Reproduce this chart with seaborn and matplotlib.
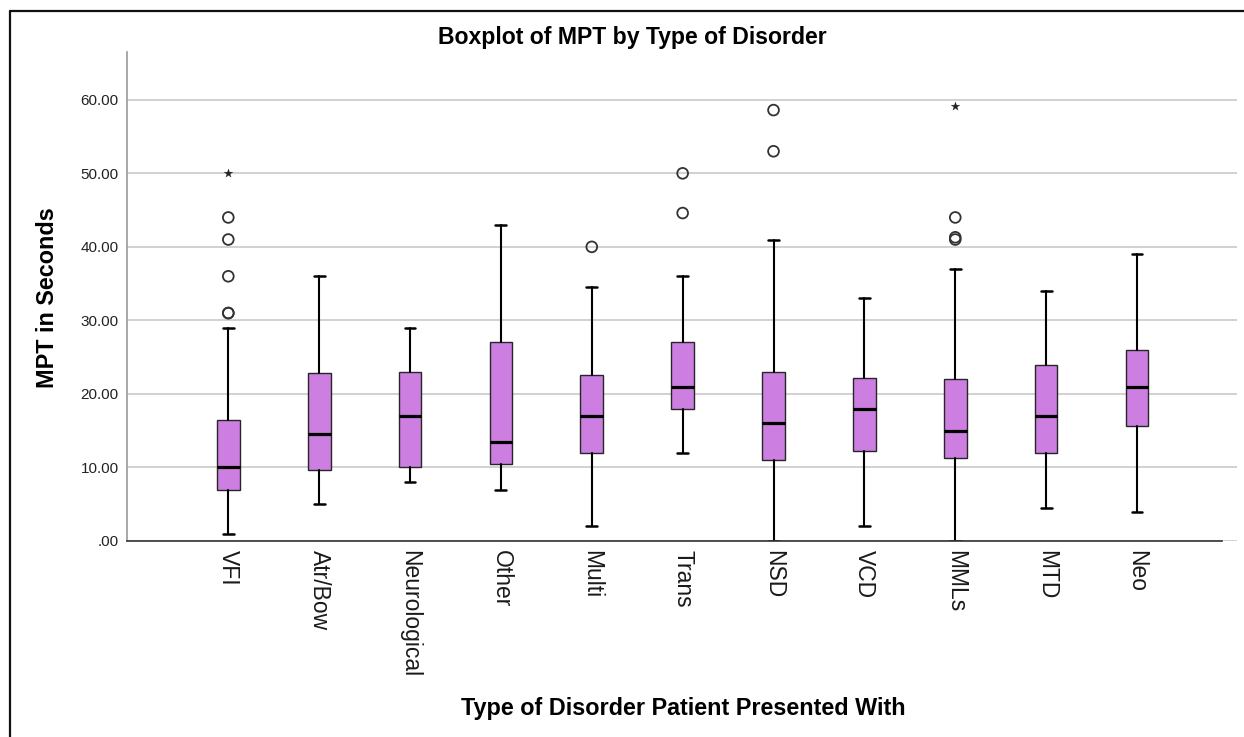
import matplotlib
matplotlib.use("Agg")
import matplotlib.pyplot as plt
from matplotlib.lines import Line2D
from matplotlib.ticker import FuncFormatter
import numpy as np
import pandas as pd
import seaborn as sns

# ---------------- data ----------------
categories = ["VFI", "Atr/Bow", "Neurological", "Other", "Multi", "Trans",
              "NSD", "VCD", "MMLs", "MTD", "Neo"]
whisker_low = [1, 5, 8, 7, 2, 12, 0, 2, 0, 4.5, 4]
q1 = [7, 9.7, 10, 10.5, 12, 18, 11, 12.3, 11.3, 12, 15.6]
median = [10, 14.5, 17, 13.4, 17, 21, 16, 18, 15, 17, 21]
q3 = [16.5, 22.8, 23, 27, 22.6, 27, 23, 22.2, 22, 24, 26]
whisker_high = [29, 36, 29, 43, 34.6, 36, 41, 33, 37, 34, 39]

outlier_cat = ["VFI", "VFI", "VFI", "VFI", "VFI", "Multi", "Trans", "Trans",
               "NSD", "NSD", "MMLs", "MMLs", "MMLs"]
outlier_val = [44, 41, 36, 31, 31, 40, 50, 44.6, 58.6, 53, 44, 41.3, 41]
extreme_cat = ["VFI", "MMLs"]
extreme_val = [50, 59.2]

title = "Boxplot of MPT by Type of Disorder"
x_title = "Type of Disorder Patient Presented With"
y_title = "MPT in Seconds"
y_ticks = [0, 10, 20, 30, 40, 50, 60]

# ---------------- style ----------------
sns.set_theme(style="white")
plt.rcParams["font.family"] = ["Liberation Sans", "DejaVu Sans"]

W, H = 1244, 737
fig = plt.figure(figsize=(W / 100, H / 100), dpi=100)
fig.patch.set_facecolor("white")
ax = fig.add_axes([127 / W, (H - 541) / H, (1237 - 127) / W, (541 - 52) / H])

box_color = "#CC7FE0"
stats = []
for i, c in enumerate(categories):
    stats.append(dict(label=c, whislo=whisker_low[i], q1=q1[i], med=median[i],
                      q3=q3[i], whishi=whisker_high[i], fliers=[]))

pos = np.arange(len(categories))
ax.bxp(stats, positions=pos, widths=0.25, capwidths=0.12, patch_artist=True,
       showfliers=False, manage_ticks=False,
       boxprops=dict(facecolor=box_color, edgecolor="#262626", linewidth=1.0),
       medianprops=dict(color="black", linewidth=2.3, solid_capstyle="butt"),
       whiskerprops=dict(color="black", linewidth=1.5),
       capprops=dict(color="black", linewidth=1.8))

out_df = pd.DataFrame({"x": [categories.index(c) for c in outlier_cat],
                       "y": outlier_val})
ext_df = pd.DataFrame({"x": [categories.index(c) for c in extreme_cat],
                       "y": extreme_val})
sns.scatterplot(data=out_df, x="x", y="y", ax=ax, marker="o", s=60,
                facecolor="none", edgecolor="#333333", linewidth=1.3,
                legend=False, zorder=5)
sns.scatterplot(data=ext_df, x="x", y="y", ax=ax, marker="*", s=42,
                color="#222222", edgecolor="#222222", linewidth=0.2,
                legend=False, zorder=5)

# ---------------- axes ----------------
x0 = (127 - 228.3) / 90.87
x1 = (1237 - 228.3) / 90.87
ax.set_xlim(x0, x1)
ax.set_ylim(0, 66.5)
ax.set_xticks(pos)
ax.set_xticklabels(categories, rotation=270, fontsize=16.5, color="#1a1a1a")
ax.set_yticks(y_ticks)
ax.yaxis.set_major_formatter(FuncFormatter(
    lambda v, p: ("%.2f" % v)[1:] if abs(v) < 1 else "%.2f" % v))
ax.tick_params(axis="y", length=0, pad=6, labelsize=11, labelcolor="#222222")
ax.tick_params(axis="x", length=0, pad=6.5)

ax.yaxis.grid(True, color="#c9c9c9", linewidth=1.2)
ax.xaxis.grid(False)
ax.set_axisbelow(True)

for s in ["top", "right"]:
    ax.spines[s].set_visible(False)
ax.spines["left"].set_color("#9a9a9a")
ax.spines["left"].set_linewidth(1.2)
ax.spines["bottom"].set_color("#333333")
ax.spines["bottom"].set_linewidth(1.2)
ax.spines["bottom"].set_bounds(x0, (1222 - 228.3) / 90.87)

ax.set_xlabel(x_title, fontsize=16.8, fontweight="bold", color="black")
ax.xaxis.set_label_coords((683 - 127) / 1110, (541 - 709) / 489)
ax.xaxis.label.set_va("center")
ax.set_ylabel(y_title, fontsize=16.8, fontweight="bold", color="black")
ax.yaxis.set_label_coords((47 - 127) / 1110, (541 - 298) / 489)
ax.yaxis.label.set_va("center")

fig.text(632 / W, 1 - 44 / H, title, ha="center", va="baseline",
         fontsize=16.6, fontweight="bold", color="black")

# outer frame (top and left edges visible in the reference)
fig.add_artist(Line2D([10 / W, 1], [1 - 11 / H, 1 - 11 / H],
                      transform=fig.transFigure, color="#111111", linewidth=1.6))
fig.add_artist(Line2D([10 / W, 10 / W], [0, 1 - 11 / H],
                      transform=fig.transFigure, color="#111111", linewidth=1.6))

fig.savefig("out.png", dpi=100, facecolor="white")
